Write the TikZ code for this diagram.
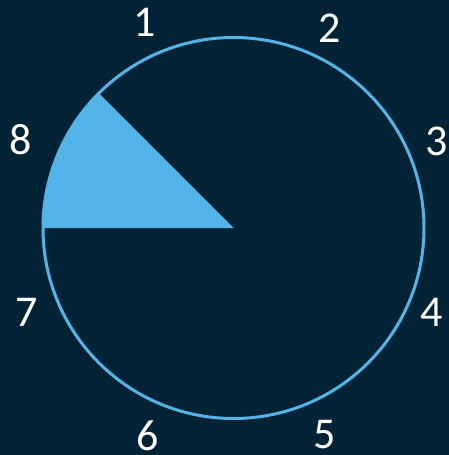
\documentclass[tikz,border=0pt]{standalone}
\usepackage{fontspec}
\setmainfont{Carlito}
\definecolor{bgnavy}{RGB}{2,35,53}
\definecolor{skyblue}{RGB}{82,180,232}
\tikzset{
  num/.style={text=white, inner sep=0pt, font=\fontsize{44}{44}\selectfont},
  ring/.style={draw=skyblue, line width=3pt},
  wedge/.style={fill=skyblue}
}
\begin{document}
\begin{tikzpicture}[x=1pt,y=-1pt]
\fill[bgnavy] (0,0) rectangle (449,455);
\useasboundingbox (0,0) rectangle (449,455);
\coordinate (c) at (233.5,228);
\fill[wedge] (c) -- ++(180:191) arc[start angle=180, end angle=225, radius=191] -- cycle;
\draw[ring] (c) circle[radius=190.5];
\node[num] (n1) at (145,22) {1};
\node[num] (n2) at (330,28) {2};
\node[num] (n3) at (437,141) {3};
\node[num] (n4) at (432,312) {4};
\node[num] (n5) at (325,435) {5};
\node[num] (n6) at (148,436) {6};
\node[num] (n7) at (27,312) {7};
\node[num] (n8) at (21,140) {8};
\end{tikzpicture}
\end{document}
